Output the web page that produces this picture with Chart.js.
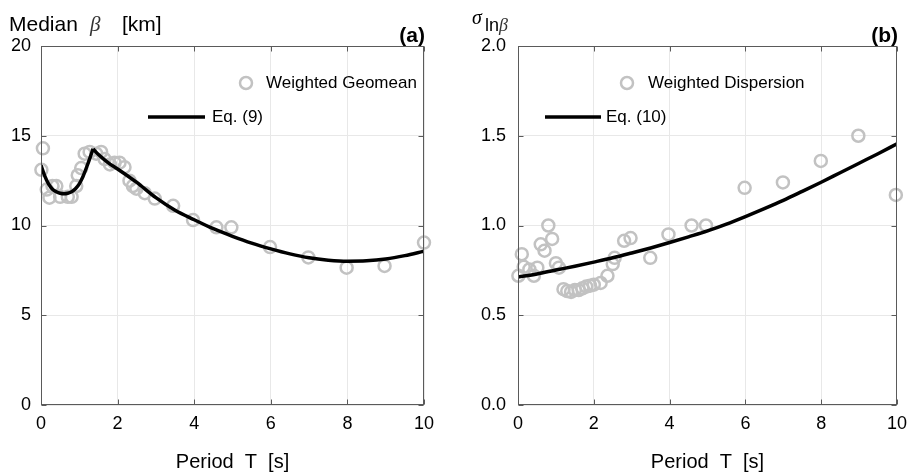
<!DOCTYPE html>
<html><head><meta charset="utf-8">
<script src="https://cdn.jsdelivr.net/npm/chart.js@4.4.1/dist/chart.umd.min.js"></script>
<style>
body{margin:0;background:#fff;width:915px;height:476px;overflow:hidden;position:relative}
.p{position:absolute;top:0;height:476px}
</style></head><body>
<div class="p" style="left:0;width:457px"><canvas id="ca" width="457" height="476"></canvas></div>
<div class="p" style="left:457px;width:458px"><canvas id="cb" width="458" height="476"></canvas></div>
<script>
// ---------- data ----------
const X_TICKS = [0, 2, 4, 6, 8, 10];
const Y_TICKS_A = [0, 5, 10, 15, 20];
const Y_TICKS_B = [0, 0.5, 1.0, 1.5, 2.0];

// panel (a): weighted geomean of beta [km]
const T_GEO = [0.01,0.05,0.15,0.22,0.3,0.4,0.5,0.7,0.8,0.92,0.96,1.05,1.14,1.27,1.44,1.57,1.66,1.8,1.92,2.05,2.18,2.31,2.4,2.49,2.71,2.97,3.45,3.97,4.58,4.97,5.98,6.98,7.98,8.97,10.0];
const GEO   = [13.1,14.3,12.0,11.55,12.2,12.2,11.6,11.6,11.6,12.2,12.8,13.2,14.0,14.1,14.0,14.1,13.7,13.4,13.5,13.5,13.25,12.5,12.2,12.05,11.8,11.5,11.1,10.3,9.9,9.9,8.8,8.22,7.65,7.75,9.05];
// Eq. (9), rising branch and falling branch (cusp at T = 1.36 s)
const T_EQ9_1 = [0,0.1,0.2,0.3,0.4,0.5,0.6,0.7,0.8,0.9,1.0,1.1,1.2,1.3,1.36];
const EQ9_1   = [13.35,12.75,12.3,12.02,11.88,11.8,11.77,11.8,11.88,12.05,12.32,12.75,13.3,13.9,14.27];
const T_EQ9_2 = [1.36,1.5,1.75,2.0,2.5,3.0,3.5,4.0,4.5,5.0,5.5,6.0,6.5,7.0,7.5,8.0,8.5,9.0,9.5,10.0];
const EQ9_2   = [14.27,13.95,13.5,13.15,12.4,11.55,10.85,10.32,9.82,9.4,9.02,8.7,8.42,8.2,8.07,8.01,8.03,8.13,8.32,8.57];

// panel (b): weighted dispersion sigma_ln(beta)
const T_DISP = [0.01,0.1,0.15,0.3,0.42,0.51,0.6,0.7,0.8,0.9,1.0,1.08,1.2,1.3,1.4,1.5,1.6,1.7,1.8,1.9,2.0,2.18,2.36,2.5,2.55,2.8,2.97,3.49,3.97,4.58,4.96,5.98,6.99,7.99,8.98,9.97];
const DISP   = [0.72,0.84,0.77,0.755,0.72,0.765,0.895,0.86,1.0,0.925,0.79,0.765,0.645,0.635,0.63,0.64,0.64,0.65,0.66,0.665,0.67,0.68,0.72,0.785,0.82,0.915,0.93,0.82,0.95,1.0,1.0,1.21,1.24,1.36,1.5,1.17];
// Eq. (10)
const T_EQ10 = [0,0.5,1,1.5,2,2.5,3,3.5,4,4.5,5,5.5,6,6.5,7,7.5,8,8.5,9,9.5,10];
const EQ10   = [0.713,0.73,0.752,0.773,0.796,0.82,0.847,0.875,0.905,0.937,0.97,1.008,1.05,1.094,1.14,1.19,1.241,1.294,1.347,1.4,1.455];

// ---------- helpers ----------
const FONT = "'Liberation Sans', Arial, Helvetica, sans-serif";
const SERIF = "'Liberation Serif', 'Times New Roman', serif";
const pts = (xs, ys) => xs.map((x, i) => ({x: x, y: ys[i]}));
const PT_COLOR = '#c2c2c2';

function panelPlugin(o) {
  return {
    id: 'panel_' + o.id,
    afterDraw(chart) {
      const ctx = chart.ctx, a = chart.chartArea;
      const xs = chart.scales.x, ys = chart.scales.y;
      ctx.save();
      // box
      ctx.strokeStyle = '#5a5a5a'; ctx.lineWidth = 1;
      const L = Math.round(a.left) + 0.5, R = Math.round(a.right) - 0.5;
      const T = Math.round(a.top) + 0.5, B = Math.round(a.bottom) - 0.5;
      ctx.strokeRect(L, T, R - L, B - T);
      // inward ticks
      ctx.beginPath();
      X_TICKS.forEach(v => {
        const px = Math.round(xs.getPixelForValue(v)) + 0.5;
        ctx.moveTo(px, B); ctx.lineTo(px, B - 5);
        ctx.moveTo(px, T); ctx.lineTo(px, T + 5);
      });
      o.yTicks.forEach(v => {
        const py = Math.round(ys.getPixelForValue(v)) + 0.5;
        ctx.moveTo(L, py); ctx.lineTo(L + 5, py);
        ctx.moveTo(R, py); ctx.lineTo(R - 5, py);
      });
      ctx.stroke();
      // panel letter
      ctx.fillStyle = '#000';
      ctx.font = 'bold 21px ' + FONT;
      ctx.textAlign = 'right'; ctx.textBaseline = 'alphabetic';
      ctx.fillText(o.letter, a.right + 1, 42);
      // y title
      ctx.textAlign = 'left';
      o.drawTitle(ctx);
      // legend
      const lg = o.legend;
      ctx.font = '17px ' + FONT; ctx.textBaseline = 'middle';
      // row 1: circle marker
      ctx.strokeStyle = PT_COLOR; ctx.lineWidth = 2.5;
      ctx.beginPath(); ctx.arc(lg.cx, lg.y1, 6, 0, Math.PI * 2); ctx.stroke();
      ctx.fillStyle = '#000';
      ctx.fillText(lg.t1, lg.tx1, lg.y1);
      // row 2: line sample
      ctx.strokeStyle = '#000'; ctx.lineWidth = 3.5;
      ctx.beginPath(); ctx.moveTo(lg.lx0, lg.y2); ctx.lineTo(lg.lx1, lg.y2); ctx.stroke();
      ctx.fillText(lg.t2, lg.tx2, lg.y2);
      ctx.restore();
    }
  };
}

function build(id, o) {
  const lineDs = o.lines.map(seg => ({
    type: 'line', data: seg, showLine: true, borderColor: '#000', borderWidth: 3.5,
    pointRadius: 0, cubicInterpolationMode: 'monotone', order: 0, fill: false
  }));
  return new Chart(document.getElementById(id), {
    type: 'scatter',
    data: { datasets: [
      ...lineDs,
      { data: o.points, order: 1, pointRadius: 6, pointHoverRadius: 6, pointBorderWidth: 2.5,
        pointBorderColor: PT_COLOR, pointBackgroundColor: 'rgba(0,0,0,0)', clip: false }
    ]},
    options: {
      responsive: false, animation: false, devicePixelRatio: 1, events: [],
      layout: { padding: { left: 0, right: o.padR, top: 46, bottom: 0 } },
      plugins: { legend: { display: false }, tooltip: { enabled: false } },
      scales: {
        x: {
          type: 'linear', min: 0, max: 10,
          afterBuildTicks: s => { s.ticks = X_TICKS.map(v => ({ value: v })); },
          afterFit: s => { s.height = 71; },
          ticks: { font: { family: FONT, size: 18 }, color: '#000', padding: 8, maxRotation: 0,
                   callback: v => String(v) },
          grid: { color: '#e8e8e8', lineWidth: 1, drawTicks: false },
          border: { display: false },
          title: { display: true, text: 'Period  T  [s]', color: '#000',
                   font: { family: FONT, size: 20 }, padding: { top: 0, bottom: 2 } }
        },
        y: {
          type: 'linear', min: o.yTicks[0], max: o.yTicks[o.yTicks.length - 1],
          afterBuildTicks: s => { s.ticks = o.yTicks.map(v => ({ value: v })); },
          afterFit: s => { s.width = o.yW; },
          ticks: { font: { family: FONT, size: 18 }, color: '#000', padding: o.yPad, callback: o.fmt },
          grid: { color: '#e8e8e8', lineWidth: 1, drawTicks: false },
          border: { display: false }
        }
      }
    },
    plugins: [panelPlugin(o)]
  });
}

build('ca', {
  id: 'a', letter: '(a)', padR: 33, yW: 41, yPad: 10, yTicks: Y_TICKS_A,
  fmt: v => String(v),
  points: pts(T_GEO, GEO),
  lines: [pts(T_EQ9_1, EQ9_1), pts(T_EQ9_2, EQ9_2)],
  legend: { cx: 246, y1: 83, t1: 'Weighted Geomean', tx1: 266,
            lx0: 148, lx1: 205, y2: 117, t2: 'Eq. (9)', tx2: 212 },
  drawTitle(ctx) {
    ctx.textBaseline = 'alphabetic'; ctx.fillStyle = '#000';
    ctx.font = '21px ' + FONT; ctx.fillText('Median', 9, 31);
    ctx.font = 'italic 21px ' + SERIF; ctx.fillStyle = '#333'; ctx.fillText('\u03B2', 90, 31);
    ctx.fillStyle = '#000'; ctx.font = '21px ' + FONT; ctx.fillText('[km]', 122, 31);
  }
});

build('cb', {
  id: 'b', letter: '(b)', padR: 14, yW: 61, yPad: 12, yTicks: Y_TICKS_B,
  fmt: v => Number(v).toFixed(1),
  points: pts(T_DISP, DISP),
  lines: [pts(T_EQ10, EQ10)],
  legend: { cx: 170, y1: 83, t1: 'Weighted Dispersion', tx1: 191,
            lx0: 88, lx1: 144, y2: 117, t2: 'Eq. (10)', tx2: 149 },
  drawTitle(ctx) {
    ctx.textBaseline = 'alphabetic'; ctx.fillStyle = '#000';
    ctx.font = 'italic 20px ' + SERIF; ctx.fillText('\u03C3', 15, 24);
    ctx.font = '18px ' + FONT; ctx.fillText('ln', 28, 31);
    ctx.font = 'italic 18px ' + SERIF; ctx.fillStyle = '#333'; ctx.fillText('\u03B2', 42, 31);
  }
});
</script>
</body></html>
